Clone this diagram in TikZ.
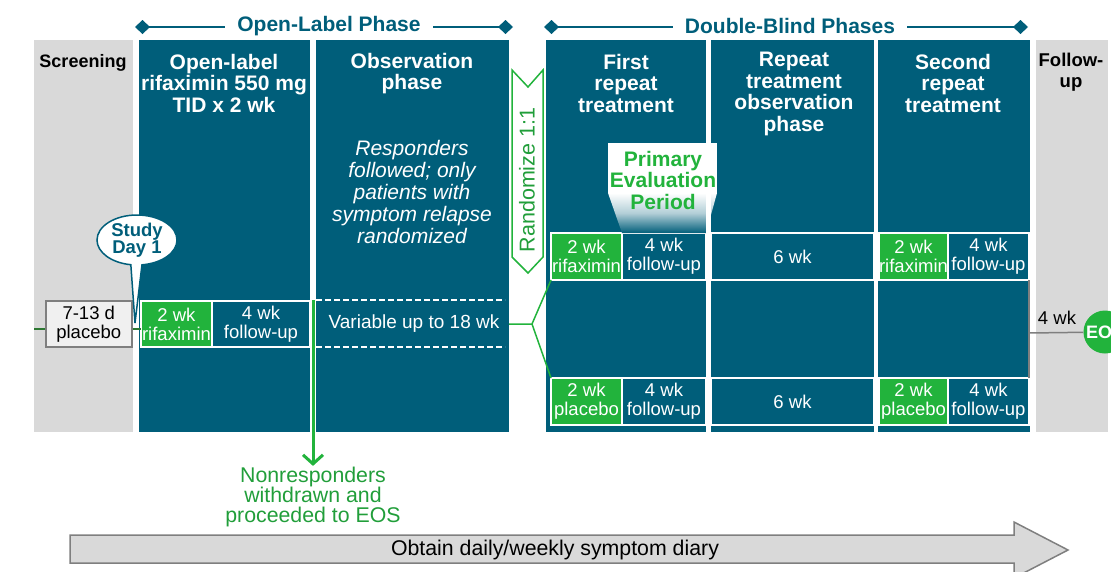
\documentclass[tikz,border=0pt]{standalone}
\usepackage{fontspec}
\setmainfont{Liberation Sans}
\usetikzlibrary{arrows.meta,shapes.geometric,shapes.callouts,positioning,calc}

\definecolor{dblue}{RGB}{0,94,122}
\definecolor{rgreen}{RGB}{34,179,60}
\definecolor{tgreen}{RGB}{33,158,58}
\definecolor{lgreen}{RGB}{45,120,50}
\definecolor{lgrey}{RGB}{217,217,217}
\definecolor{mgrey}{RGB}{127,127,127}
\definecolor{pgrey}{RGB}{240,240,240}

\def\fsmall{\fontsize{18.5}{19}\selectfont}
\def\fbig{\fontsize{21.3}{20}\selectfont}
\def\fhead{\fontsize{21}{21.5}\selectfont\bfseries}

\tikzset{
  colbox/.style={fill=dblue, inner sep=0pt, outer sep=0pt, anchor=north west, minimum height=392pt},
  greybox/.style={colbox, fill=lgrey},
  coltitle/.style={anchor=north, align=center, text=white, font=\fhead, inner sep=0pt},
  wkbox/.style={draw=white, line width=1.2pt, fill=dblue, text=white, font=\fsmall, align=center, inner sep=0pt, outer sep=0pt, anchor=north west},
  rxbox/.style={wkbox, fill=rgreen},
  phase/.style={dblue, line width=2.5pt, {Diamond[length=15pt,width=14pt]}-},
  phasetxt/.style={text=dblue, font=\fontsize{21}{22}\selectfont\bfseries, inner xsep=12pt}
}

\begin{document}
\begin{tikzpicture}[x=1pt,y=-1pt]
\useasboundingbox (0,0) rectangle (1111,571);

% grey side columns
\node[greybox, minimum width=99pt] (scr) at (34,40) {};
\node[greybox, minimum width=72pt] (fup) at (1036,40) {};

% the five treatment columns
\foreach \nm/\xa/\xb in {olab/139/310, obs/316/509, first/546/706, rtobs/711/874, second/878/1030}
{
  \pgfmathsetmacro\w{\xb-\xa}
  \node[colbox, minimum width=\w pt] (\nm) at (\xa,40) {};
}

% phase headers
\node[phasetxt] (olp) at (329,26) {Open-Label Phase};
\coordinate (olL) at (135,27);
\coordinate (olR) at (513,27);
\draw[phase] (olL) -- (olL -| olp.west);
\draw[phase] (olR) -- (olR -| olp.east);

\node[phasetxt] (dbp) at (790,26) {Double-Blind Phases};
\coordinate (dbL) at (544,27);
\coordinate (dbR) at (1028,27);
\draw[phase] (dbL) -- (dbL -| dbp.west);
\draw[phase] (dbR) -- (dbR -| dbp.east);

% column titles
\node[coltitle, text=black, font=\fontsize{18}{20}\selectfont\bfseries] (t-scr) at (83,54) {Screening};
\node[coltitle] (t-olab) at (224,54) {Open-label\\rifaximin 550 mg\\TID x 2 wk};
\node[coltitle] (t-obs) at (412,53) {Observation\\phase};
\node[coltitle] (t-first) at (626,54) {First\\repeat\\treatment};
\node[coltitle] (t-rtobs) at (794,52) {Repeat\\treatment\\observation\\phase};
\node[coltitle] (t-second) at (953,54) {Second\\repeat\\treatment};
\node[coltitle, text=black, font=\fontsize{18.5}{21}\selectfont\bfseries] (t-fup) at (1071,53) {Follow-\\up};

\node[anchor=north, align=center, text=white, font=\fontsize{21}{22}\selectfont\itshape, inner sep=0pt] (resp) at (412,140) {Responders\\followed; only\\patients with\\symptom relapse\\randomized};

% open-label row
\node[rxbox, minimum width=71pt, minimum height=46pt] (orx) at (141,301) {2 wk\\rifaximin};
\node[wkbox, minimum width=98pt, minimum height=46pt] (ofu) at (212,301) {4 wk\\follow-up};

\draw[white, line width=1.3pt, dash pattern=on 6pt off 3pt] (316,300) -- (505,300);
\draw[white, line width=1.3pt, dash pattern=on 6pt off 3pt] (316,347) -- (505,347);
\node[text=white, font=\fontsize{19}{20}\selectfont] (var) at (414,324) {Variable up to 18 wk};

% double-blind rows, rifaximin arm on top
\foreach \rw/\y/\drug in {a/233/rifaximin, b/378/placebo}
{
  \node[rxbox, minimum width=71pt, minimum height=47pt] (\rw rx1) at (551,\y) {2 wk\\\drug};
  \node[wkbox, minimum width=84pt, minimum height=47pt] (\rw fu1) at (622,\y) {4 wk\\follow-up};
  \node[wkbox, minimum width=163pt, minimum height=47pt] (\rw wk) at (711,\y) {6 wk};
  \node[rxbox, minimum width=69pt, minimum height=47pt] (\rw rx2) at (879,\y) {2 wk\\\drug};
  \node[wkbox, minimum width=81pt, minimum height=47pt] (\rw fu2) at (948,\y) {4 wk\\follow-up};
}

% primary evaluation period
\fill[white] (608,143) rectangle (717,193);
\shade[top color=white, bottom color=dblue, middle color=dblue!30] (608,193) -- (717,193) -- (706,233) -- (622,233) -- cycle;
\fill[white] (706,193) rectangle (711,233);
\node[text=rgreen, font=\fontsize{21}{21.5}\selectfont\bfseries, align=center] (pep) at (663,180) {Primary\\Evaluation\\Period};

% randomize banner
\draw[rgreen, line width=1.5pt, fill=white] (512,70) -- (528,87) -- (543,70) -- (543,257) -- (528,273) -- (512,257) -- cycle;
\node[rotate=90, text=tgreen, font=\fontsize{21.5}{22}\selectfont] (rand) at (527,180) {Randomize 1:1};

\coordinate (split) at (532,324);
\draw[rgreen, line width=1.5pt] (obs.east |- split) -- (split) -- (arx1.south west);
\draw[rgreen, line width=1.5pt] (split) -- (brx1.north west);

% screening placebo
\node[draw=mgrey, fill=pgrey, line width=1.5pt, minimum width=86pt, minimum height=46pt, inner sep=0pt, anchor=north west, align=center, font=\fsmall] (plac) at (45,300) {7-13 d\\placebo};
\coordinate (lstart) at (34,329);
\draw[lgreen, line width=1.2pt] (lstart) -- (lstart -| plac.west);
\draw[lgreen, line width=1.2pt] (plac.east |- lstart) -- (lstart -| orx.west);

\node[ellipse callout, draw=dblue, fill=white, line width=1.5pt, minimum width=80pt, minimum height=50pt, inner sep=0pt, text=dblue, font=\fontsize{18.5}{17}\selectfont\bfseries, align=center, callout absolute pointer={(135,323)}, callout pointer arc=16] (day1) at (137,240) {Study\\Day 1};

% nonresponders leave the study
\coordinate (nrtop) at (313,300);
\node[text=tgreen, font=\fbig, align=center, inner sep=1pt] (nonresp) at (313,497) {Nonresponders\\withdrawn and\\proceeded to EOS};
\draw[rgreen, line width=3pt, -{Straight Barb[length=9pt,width=20pt]}] (nrtop) -- (nonresp.north);

% end of study
\coordinate (brk) at (1029,333);
\draw[mgrey, line width=1.5pt] (afu2.south east) -- (bfu2.north east);
\node[circle, fill=rgreen, minimum size=43pt, inner sep=0pt, text=white, font=\fontsize{18}{20}\selectfont\bfseries] (eos) at (1105,332) {EOS};
\draw[mgrey, line width=1.5pt] (brk) -- (eos);
\node[font=\fsmall, anchor=base, inner sep=0pt] (fourwk) at (1057,324) {4 wk};

% symptom diary arrow
\draw[mgrey, line width=1.5pt, fill=lgrey] (70,535) -- (1014,535) -- (1014,522) -- (1068,550) -- (1014,578) -- (1014,563) -- (70,563) -- cycle;
\node[font=\fbig] (diary) at (555,550) {Obtain daily/weekly symptom diary};
\end{tikzpicture}
\end{document}
